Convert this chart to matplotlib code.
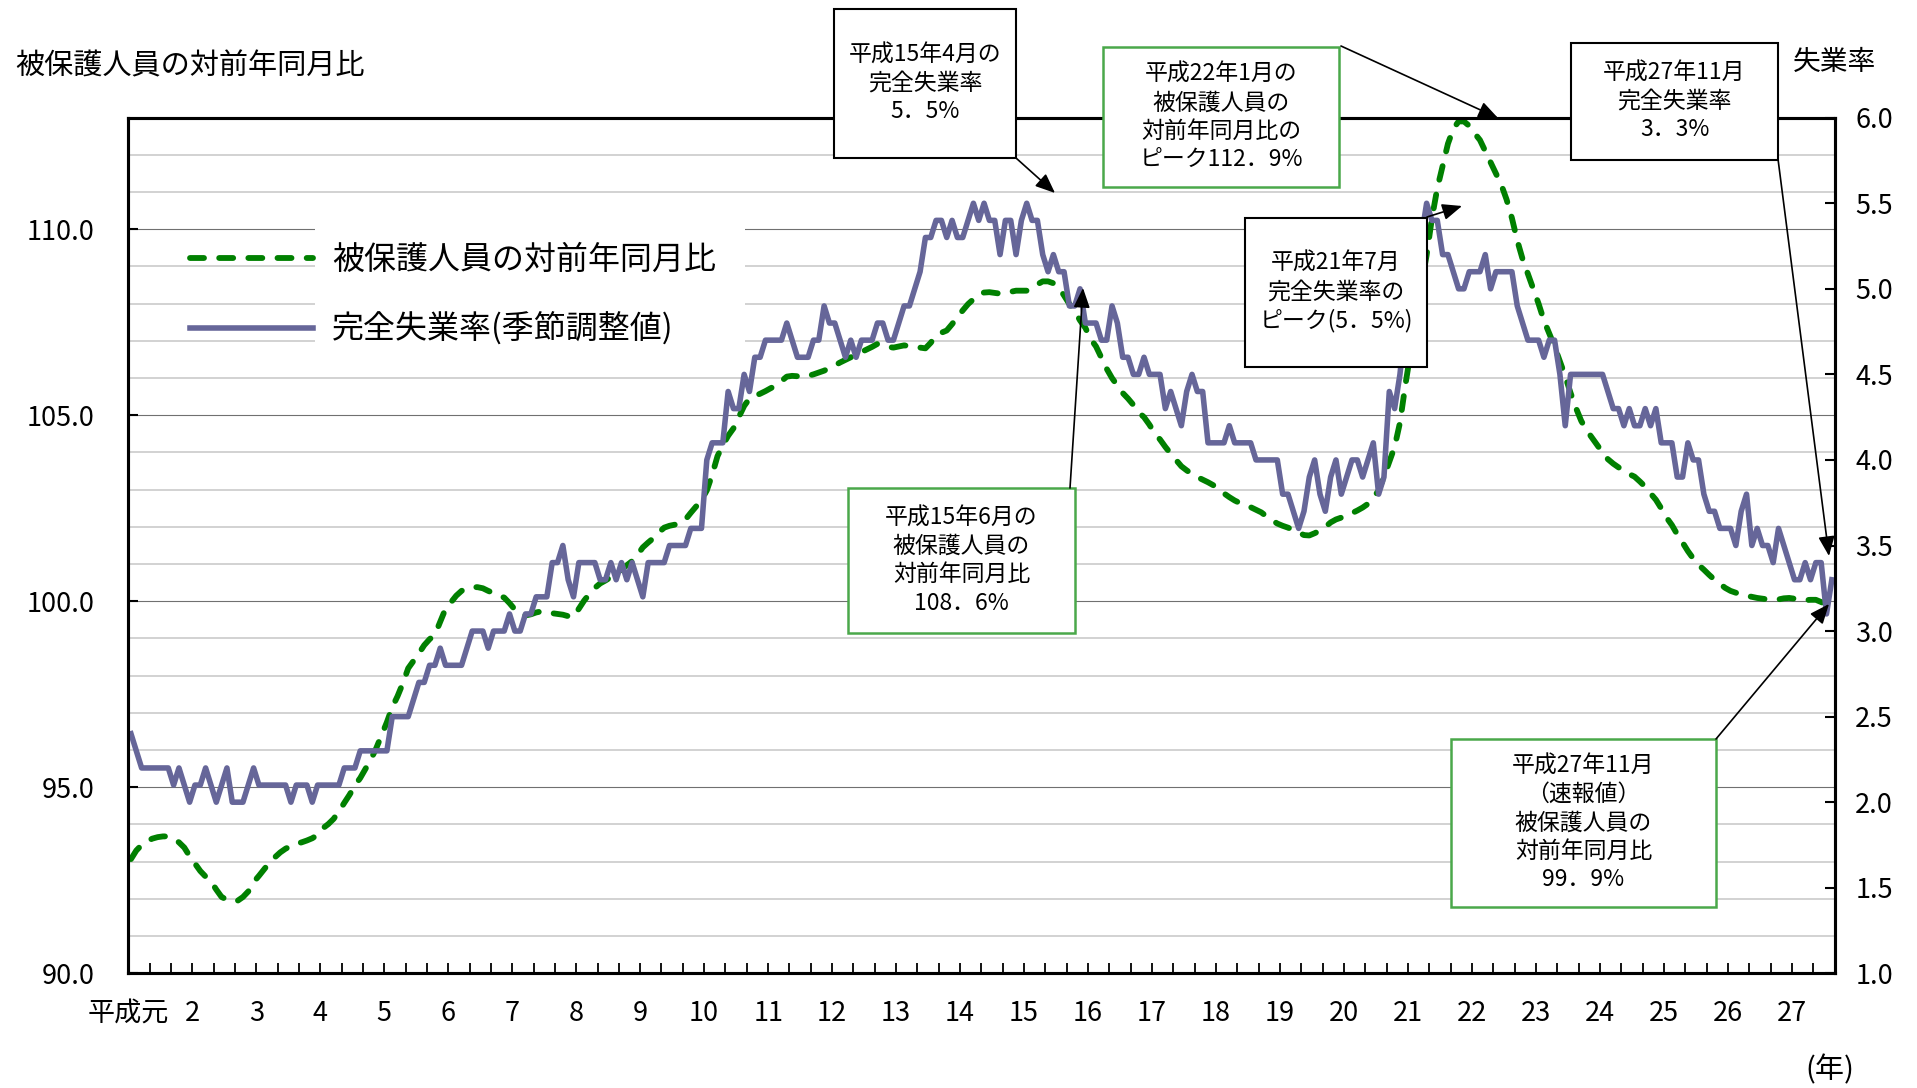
import matplotlib
matplotlib.use("Agg")
import matplotlib.pyplot as plt
import numpy as np
from matplotlib.patches import Rectangle, FancyArrowPatch
from matplotlib.ticker import MultipleLocator, FormatStrFormatter

plt.rcParams['font.family'] = ['Noto Sans CJK JP', 'DejaVu Sans']

W, H = 1917, 1088

# monthly, 平成元年4月 .. 平成27年11月 (one row per calendar year)
ratio = [
    93.07, 93.3, 93.45, 93.55, 93.62, 93.66, 93.68, 93.68, 93.62,
    93.52, 93.38, 93.15, 92.95, 92.75, 92.6, 92.47, 92.25, 92.05, 91.98, 91.93, 91.95,
    92.05, 92.2, 92.45, 92.62, 92.8, 92.98, 93.12, 93.25, 93.35, 93.42, 93.48, 93.52,
    93.57, 93.63, 93.72, 93.9, 94.01, 94.15, 94.35, 94.58, 94.8, 95.05, 95.25, 95.5,
    95.75, 96.05, 96.4, 96.75, 97.15, 97.45, 97.8, 98.2, 98.4, 98.6, 98.82, 98.98,
    99.1, 99.45, 99.8, 99.97, 100.15, 100.28, 100.35, 100.38, 100.38, 100.35, 100.28, 100.22,
    100.15, 100.1, 99.95, 99.78, 99.65, 99.62, 99.65, 99.7, 99.73, 99.72, 99.68, 99.66,
    99.64, 99.6, 99.58, 99.8, 100.02, 100.2, 100.36, 100.48, 100.56, 100.65, 100.75, 100.85,
    100.97, 101.08, 101.25, 101.45, 101.58, 101.7, 101.85, 101.98, 102.03, 102.06, 102.09, 102.2,
    102.38, 102.55, 102.72, 102.98, 103.4, 103.9, 104.2, 104.45, 104.65, 104.95, 105.25, 105.45,
    105.52, 105.58, 105.65, 105.73, 105.8, 105.92, 106.04, 106.06, 106.05, 106.03, 106.06, 106.1,
    106.15, 106.2, 106.27, 106.34, 106.42, 106.49, 106.56, 106.63, 106.7, 106.77, 106.84, 106.92,
    106.9, 106.84, 106.82, 106.85, 106.88, 106.86, 106.83, 106.82, 106.8, 106.95, 107.15, 107.22,
    107.28, 107.45, 107.64, 107.82, 107.99, 108.12, 108.26, 108.3, 108.31, 108.29, 108.27, 108.28,
    108.32, 108.35, 108.35, 108.35, 108.42, 108.52, 108.6, 108.6, 108.55, 108.44, 108.22, 107.99,
    107.8, 107.55, 107.35, 107.05, 106.85, 106.55, 106.25, 106.0, 105.8, 105.6, 105.45, 105.28,
    105.08, 104.95, 104.75, 104.52, 104.35, 104.15, 103.97, 103.8, 103.63, 103.52, 103.42, 103.34,
    103.27, 103.2, 103.12, 103.01, 102.9, 102.8, 102.71, 102.64, 102.58, 102.53, 102.46, 102.39,
    102.28, 102.18, 102.09, 102.03, 101.98, 101.92, 101.85, 101.78, 101.77, 101.83, 101.9, 102.0,
    102.12, 102.2, 102.25, 102.3, 102.37, 102.44, 102.52, 102.62, 102.78, 102.98, 103.35, 103.75,
    104.15, 104.8, 105.8, 106.7, 107.6, 108.5, 109.3, 110.3, 111.1, 111.7, 112.3, 112.7,
    112.9, 112.9, 112.78, 112.58, 112.4, 112.1, 111.8, 111.5, 111.2, 110.8, 110.3, 109.7,
    109.2, 108.8, 108.4, 108.0, 107.55, 107.2, 106.85, 106.45, 106.05, 105.6, 105.2, 104.85,
    104.6, 104.4, 104.2, 104.0, 103.82, 103.7, 103.6, 103.5, 103.42, 103.35, 103.22, 103.08,
    102.9, 102.73, 102.5, 102.25, 102.05, 101.8, 101.58, 101.35, 101.15, 100.98, 100.85, 100.71,
    100.58, 100.47, 100.36, 100.28, 100.23, 100.18, 100.15, 100.12, 100.09, 100.07, 100.05, 100.04,
    100.05, 100.08, 100.09, 100.07, 100.04, 100.03, 100.04, 100.04, 99.98, 99.9, 99.9,
]

unemp = [
    2.4, 2.3, 2.2, 2.2, 2.2, 2.2, 2.2, 2.2, 2.1,
    2.2, 2.1, 2.0, 2.1, 2.1, 2.2, 2.1, 2.0, 2.1, 2.2, 2.0, 2.0,
    2.0, 2.1, 2.2, 2.1, 2.1, 2.1, 2.1, 2.1, 2.1, 2.0, 2.1, 2.1,
    2.1, 2.0, 2.1, 2.1, 2.1, 2.1, 2.1, 2.2, 2.2, 2.2, 2.3, 2.3,
    2.3, 2.3, 2.3, 2.3, 2.5, 2.5, 2.5, 2.5, 2.6, 2.7, 2.7, 2.8,
    2.8, 2.9, 2.8, 2.8, 2.8, 2.8, 2.9, 3.0, 3.0, 3.0, 2.9, 3.0,
    3.0, 3.0, 3.1, 3.0, 3.0, 3.1, 3.1, 3.2, 3.2, 3.2, 3.4, 3.4,
    3.5, 3.3, 3.2, 3.4, 3.4, 3.4, 3.4, 3.3, 3.3, 3.4, 3.3, 3.4,
    3.3, 3.4, 3.3, 3.2, 3.4, 3.4, 3.4, 3.4, 3.5, 3.5, 3.5, 3.5,
    3.6, 3.6, 3.6, 4.0, 4.1, 4.1, 4.1, 4.4, 4.3, 4.3, 4.5, 4.4,
    4.6, 4.6, 4.7, 4.7, 4.7, 4.7, 4.8, 4.7, 4.6, 4.6, 4.6, 4.7,
    4.7, 4.9, 4.8, 4.8, 4.7, 4.6, 4.7, 4.6, 4.7, 4.7, 4.7, 4.8,
    4.8, 4.7, 4.7, 4.8, 4.9, 4.9, 5.0, 5.1, 5.3, 5.3, 5.4, 5.4,
    5.3, 5.4, 5.3, 5.3, 5.4, 5.5, 5.4, 5.5, 5.4, 5.4, 5.2, 5.4,
    5.4, 5.2, 5.4, 5.5, 5.4, 5.4, 5.2, 5.1, 5.2, 5.1, 5.1, 4.9,
    4.9, 5.0, 4.8, 4.8, 4.8, 4.7, 4.7, 4.9, 4.8, 4.6, 4.6, 4.5,
    4.5, 4.6, 4.5, 4.5, 4.5, 4.3, 4.4, 4.3, 4.2, 4.4, 4.5, 4.4,
    4.4, 4.1, 4.1, 4.1, 4.1, 4.2, 4.1, 4.1, 4.1, 4.1, 4.0, 4.0,
    4.0, 4.0, 4.0, 3.8, 3.8, 3.7, 3.6, 3.7, 3.9, 4.0, 3.8, 3.7,
    3.9, 4.0, 3.8, 3.9, 4.0, 4.0, 3.9, 4.0, 4.1, 3.8, 3.9, 4.4,
    4.3, 4.5, 4.8, 5.0, 5.2, 5.3, 5.5, 5.4, 5.4, 5.2, 5.2, 5.1,
    5.0, 5.0, 5.1, 5.1, 5.1, 5.2, 5.0, 5.1, 5.1, 5.1, 5.1, 4.9,
    4.8, 4.7, 4.7, 4.7, 4.6, 4.7, 4.7, 4.5, 4.2, 4.5, 4.5, 4.5,
    4.5, 4.5, 4.5, 4.5, 4.4, 4.3, 4.3, 4.2, 4.3, 4.2, 4.2, 4.3,
    4.2, 4.3, 4.1, 4.1, 4.1, 3.9, 3.9, 4.1, 4.0, 4.0, 3.8, 3.7,
    3.7, 3.6, 3.6, 3.6, 3.5, 3.7, 3.8, 3.5, 3.6, 3.5, 3.5, 3.4,
    3.6, 3.5, 3.4, 3.3, 3.3, 3.4, 3.3, 3.4, 3.4, 3.1, 3.3,
]

year_labels = ["平成元"] + [str(y) for y in range(2, 28)]
ratio_label = "被保護人員の対前年同月比"
unemp_label = "完全失業率(季節調整値)"

GREEN = "#008000"
PURPLE = "#666699"
BOX_GREEN = "#4aa84a"


def fx(px):
    return px / W


def fy(py):
    return 1 - py / H


n = len(unemp)
x = np.arange(n) + 0.5

fig = plt.figure(figsize=(W / 100, H / 100), dpi=100)
ax = fig.add_axes([fx(128.3), fy(973.3), (1834.5 - 128.3) / W, (973.3 - 117.7) / H])
ax2 = ax.twinx()

ax.set_xlim(0, n)
ax.set_ylim(90, 113)
ax2.set_ylim(1.0, 6.0)

# grid lines
ax.set_axisbelow(True)
ax.yaxis.set_major_locator(MultipleLocator(5))
ax.yaxis.set_minor_locator(MultipleLocator(1))
ax.grid(which='minor', axis='y', color='#c6c6c6', lw=1.1)
ax.grid(which='major', axis='y', color='#707070', lw=0.8)
ax.yaxis.set_major_formatter(FormatStrFormatter('%.1f'))

# white area behind the legend text
ax.add_patch(Rectangle((0.1094, 0.7028), 0.252, 0.195, transform=ax.transAxes,
                       fc='white', ec='none', zorder=1))

l1, = ax.plot(x, ratio, color=GREEN, lw=4.2, linestyle=(0, (2.4, 2.6)),
              dash_capstyle='round', zorder=2)
l2, = ax2.plot(x, unemp, color=PURPLE, lw=4.0, solid_joinstyle='round', zorder=2)

ax2.set_yticks(np.arange(1.0, 6.01, 0.5))
ax2.yaxis.set_major_formatter(FormatStrFormatter('%.1f'))

ticks = np.arange(0, n + 1, 4)
ax.set_xticks(ticks)
ax.set_xticklabels([year_labels[t // 12] if t % 12 == 0 and t // 12 < len(year_labels) else ''
                    for t in ticks])

ax.tick_params(axis='y', which='major', direction='in', length=7, width=1.5, pad=24, labelsize=19.5)
ax.tick_params(axis='y', which='minor', length=0)
ax.tick_params(axis='x', direction='in', length=7, width=1.3, pad=19, labelsize=19.5)
ax2.tick_params(axis='y', direction='in', length=7, width=1.5, pad=15, labelsize=19.5)

for a in (ax, ax2):
    for s in a.spines.values():
        s.set_linewidth(2.2)
        s.set_color('black')

ax2.legend([l1, l2], [ratio_label, unemp_label], loc='upper left',
           bbox_to_anchor=(fx(190), fy(244)), bbox_transform=fig.transFigure,
           frameon=False, fontsize=23, handlelength=3.85, handletextpad=0.6,
           labelspacing=1.15, borderpad=0, borderaxespad=0)

fig.text(fx(15), fy(66), ratio_label, fontsize=21, ha='left', va='center')
fig.text(fx(1834), fy(62), "失業率", fontsize=20, ha='center', va='center')
fig.text(fx(1830), fy(1070), "(年)", fontsize=21, ha='center', va='center')

# callout boxes: left, top, right, bottom (pixels), edge colour, text
boxes = [
    (834, 9, 1016, 158, 'black', "平成15年4月の\n完全失業率\n5．5%"),
    (1103, 47, 1339, 187, BOX_GREEN, "平成22年1月の\n被保護人員の\n対前年同月比の\nピーク112．9%"),
    (1571, 43, 1778, 160, 'black', "平成27年11月\n完全失業率\n3．3%"),
    (1245, 218, 1427, 367, 'black', "平成21年7月\n完全失業率の\nピーク(5．5%)"),
    (848, 488, 1075, 633, BOX_GREEN, "平成15年6月の\n被保護人員の\n対前年同月比\n108．6%"),
    (1451, 739, 1716, 907, BOX_GREEN, "平成27年11月\n（速報値）\n被保護人員の\n対前年同月比\n99．9%"),
]
for x0, y0, x1, y1, ec, txt in boxes:
    lw = 1.8 if ec == BOX_GREEN else 1.5
    fig.add_artist(Rectangle((fx(x0), fy(y1)), (x1 - x0) / W, (y1 - y0) / H,
                             transform=fig.transFigure, fc='white', ec=ec, lw=lw, zorder=5))
    fig.text(fx((x0 + x1) / 2), fy((y0 + y1) / 2), txt, fontsize=16.5, ha='center',
             va='center', linespacing=1.3, zorder=6)

# arrows: start -> tip (pixels)
arrows = [
    ((1016, 158), (1055, 193)),
    ((1341, 46), (1498, 118)),
    ((1778, 159), (1829, 556)),
    ((1427, 217), (1462, 206)),
    ((1070, 488), (1083, 288)),
    ((1716, 739), (1829, 604)),
]
for (sx, sy), (ex, ey) in arrows:
    fig.add_artist(FancyArrowPatch((fx(sx), fy(sy)), (fx(ex), fy(ey)),
                                   transform=fig.transFigure,
                                   arrowstyle='-|>,head_length=0.6,head_width=0.25',
                                   mutation_scale=20, color='black', lw=1.2,
                                   shrinkA=0, shrinkB=0, zorder=7))

fig.savefig("out.png", dpi=100)
